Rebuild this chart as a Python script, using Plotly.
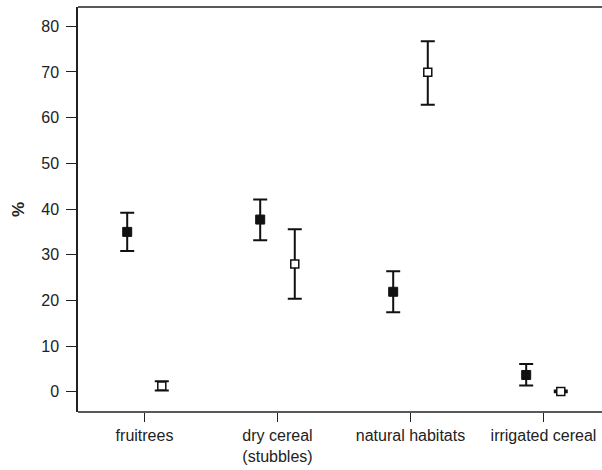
import plotly.graph_objects as go

categories = ["fruitrees", "dry cereal<br>(stubbles)", "natural habitats", "irrigated cereal"]
filled_vals = [35.0, 37.7, 21.9, 3.7]
filled_hi = [39.2, 42.1, 26.4, 6.1]
filled_lo = [30.8, 33.2, 17.4, 1.4]
open_vals = [1.3, 28.0, 69.9, 0.1]
open_hi = [2.3, 35.6, 76.7, 0.3]
open_lo = [0.3, 20.4, 62.8, -0.1]
y_ticks = [0, 10, 20, 30, 40, 50, 60, 70, 80]

idx = list(range(len(categories)))
off = 0.13

def errs(v, hi, lo):
    return [h - a for a, h in zip(v, hi)], [a - l for a, l in zip(v, lo)]

fp, fm = errs(filled_vals, filled_hi, filled_lo)
op, om = errs(open_vals, open_hi, open_lo)

fig = go.Figure()
fig.add_trace(go.Scatter(
    x=[i - off for i in idx], y=filled_vals, mode="markers",
    marker=dict(symbol="square", size=9, color="#111111", line=dict(color="#111111", width=1)),
    error_y=dict(type="data", symmetric=False, array=fp, arrayminus=fm,
                 color="#111111", thickness=2, width=7),
    showlegend=False))
fig.add_trace(go.Scatter(
    x=[i + off for i in idx], y=open_vals, mode="markers",
    marker=dict(symbol="square", size=8, color="white", line=dict(color="#111111", width=1.5)),
    error_y=dict(type="data", symmetric=False, array=op, arrayminus=om,
                 color="#111111", thickness=2, width=7),
    showlegend=False))

axis_font = dict(family="Liberation Sans, Arial, sans-serif", size=16, color="#222222")
fig.update_layout(
    width=602, height=470,
    margin=dict(l=78, r=0, t=7, b=58),
    plot_bgcolor="white", paper_bgcolor="white",
    font=axis_font,
    xaxis=dict(range=[-0.5, 3.44], tickmode="array", tickvals=idx, ticktext=categories,
               showline=False,
               ticks="outside", ticklen=9, tickwidth=1.2, tickcolor="#222222",
               showgrid=False, zeroline=False, tickfont=axis_font),
    yaxis=dict(range=[-4.4, 84.2], tickmode="array", tickvals=y_ticks,
               showline=True, linecolor="#222222", linewidth=1.5, mirror=False,
               ticks="outside", ticklen=10, tickwidth=1.2, tickcolor="#222222",
               showgrid=False, zeroline=False, tickfont=axis_font, ticklabelstandoff=4,
               title=dict(text="<b>%</b>", font=dict(family="Liberation Sans, Arial, sans-serif", size=17, color="#222222"), standoff=12)),
    shapes=[
        dict(type="line", xref="paper", yref="paper", x0=0, x1=1, y0=0, y1=0,
             line=dict(color="#222222", width=1.5)),
        dict(type="line", xref="paper", yref="paper", x0=0, x1=1, y0=1, y1=1,
             line=dict(color="#222222", width=1.5)),
    ],
)

fig.write_html("out.html")
